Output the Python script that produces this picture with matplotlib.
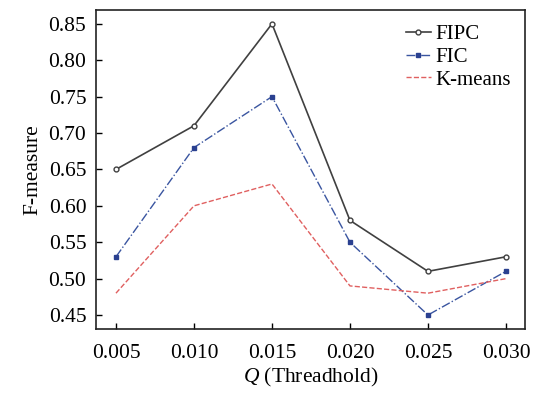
import matplotlib.pyplot as plt

# Data
q = [0.005, 0.010, 0.015, 0.020, 0.025, 0.030]
fipc = [0.65, 0.71, 0.85, 0.58, 0.51, 0.53]
fic = [0.53, 0.68, 0.75, 0.55, 0.45, 0.51]
kmeans = [0.48, 0.60, 0.63, 0.49, 0.48, 0.50]

plt.rcParams["font.family"] = ["Liberation Serif", "DejaVu Serif"]
plt.rcParams["mathtext.fontset"] = "custom"
plt.rcParams["mathtext.it"] = "Liberation Serif:italic"

fig = plt.figure(figsize=(5.36, 3.94), dpi=100)
ax = fig.add_axes([96 / 536, 1 - 329 / 394, (525 - 96) / 536, (329 - 10) / 394])

ax.plot(q, fipc, color="#404040", lw=1.2, marker="o", ms=3.5, mfc="white",
        mec="#404040", mew=1, label="FIPC")
ax.plot(q, fic, color="#3a55a0", lw=1.0, ls="-.", marker="s", ms=3.5,
        mfc="#2a4090", mec="#2a4090", label="FIC")
ax.plot(q, kmeans, color="#e06060", lw=1.0, ls="--", label="K-means")

ax.set_xlim(0.00372, 0.03122)
ax.set_ylim(0.4308, 0.869)
ax.set_xticks(q)
ax.set_xticklabels([f"{v:.3f}" for v in q])
ax.set_yticks([0.45, 0.50, 0.55, 0.60, 0.65, 0.70, 0.75, 0.80, 0.85])
ax.set_yticklabels([f"{v:.2f}" for v in ax.get_yticks()])
ax.tick_params(axis="y", direction="in", labelsize=15.5, length=4, width=1, pad=7)
ax.tick_params(axis="x", direction="in", labelsize=15.5, length=4, width=1, pad=11)

for s in ax.spines.values():
    s.set_linewidth(1.2)
    s.set_color("#222222")

ax.set_xlabel(r"$Q$ (Threadhold)", fontsize=15.5, labelpad=2)
ax.set_ylabel("F-measure", fontsize=15.5, labelpad=4)

ax.legend(loc="upper right", frameon=False, fontsize=15, handlelength=1.2,
          handletextpad=0.2, labelspacing=0.15, borderaxespad=0.3,
          bbox_to_anchor=(1.0, 1.0))

fig.savefig("out.png", dpi=100)
